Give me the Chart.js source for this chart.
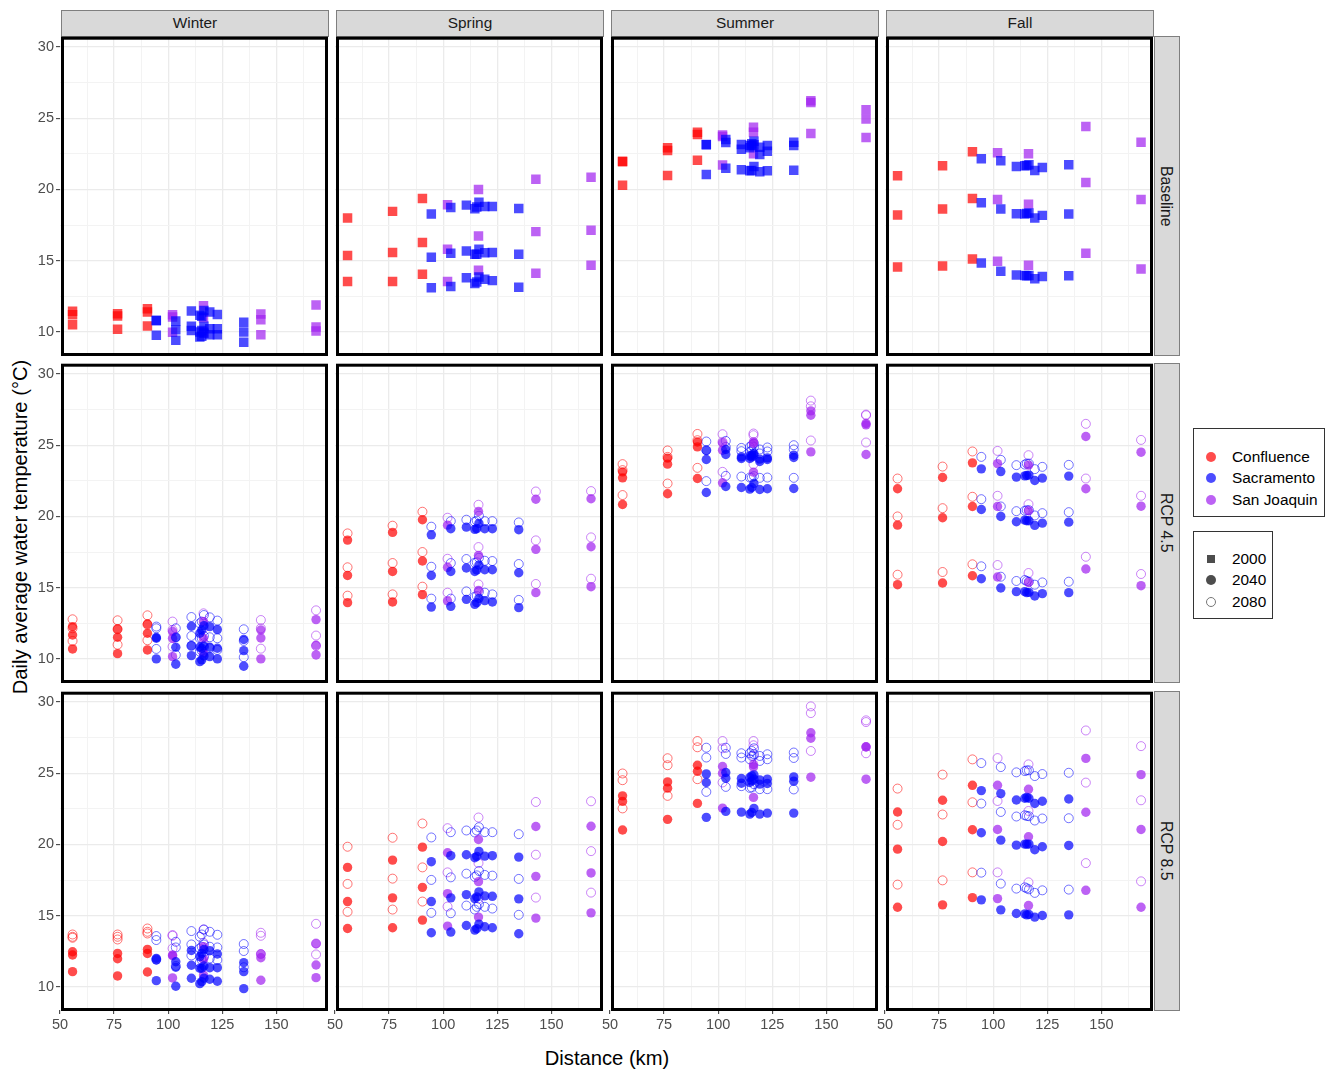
<!DOCTYPE html>
<html lang="en">
<head>
<meta charset="UTF-8">
<title>Daily average water temperature</title>
<script src="https://cdn.jsdelivr.net/npm/chart.js"></script>
<style>
    body { margin: 0; background: white; font-family: "Liberation Sans", Arial, sans-serif; color: #1a1a1a; }
    canvas { position: absolute; }
    .strip { position: absolute; background: #d9d9d9; border: 1px solid #7f7f7f; box-sizing: border-box;
             display: flex; align-items: center; justify-content: center; font-size: 15.4px; padding-bottom: 1px; }
    .strip.side { writing-mode: vertical-rl; font-size: 15.8px; padding: 0 2px 0 0; }
    .title { position: absolute; font-size: 20.2px; color: black; white-space: nowrap; }
    .legendBox { position: absolute; border: 1px solid #333; box-sizing: border-box; background: white; }
    .legendText { position: absolute; font-size: 15.4px; color: black; white-space: nowrap; transform: translateY(-50%); }
    .key { position: absolute; transform: translate(-50%, -50%); box-sizing: border-box; }
</style>
</head>
<body>

<div class="title" style="left:607px;top:1058px;transform:translate(-50%,-50%);">Distance (km)</div>
<div class="title" style="left:20px;top:527px;transform:translate(-50%,-50%) rotate(-90deg);">Daily average water temperature (°C)</div>

<div class="legendBox" style="left:1193px;top:428px;width:132px;height:89px;"></div>
<div class="legendBox" style="left:1193px;top:531px;width:80px;height:88px;"></div>

<script>
    const seasons = ['Winter', 'Spring', 'Summer', 'Fall'];
    const scenarios = ['Baseline', 'RCP 4.5', 'RCP 8.5'];
    const regions = ['Confluence', 'Sacramento', 'San Joaquin'];
    const years = ['2000', '2040', '2080'];

    const confluenceKm = [55.8, 76.6, 90.4];
    const sacramentoKm = [94.5, 103.5, 110.7, 114.6, 115.5, 116.5, 119.2, 122.7, 134.9];
    const sanJoaquinKm = [102, 116.3, 142.8, 168.3];

    const xTicks = [50, 75, 100, 125, 150];
    const xMinor = [62.5, 87.5, 112.5, 137.5, 162.5];
    const yTicks = [10, 15, 20, 25, 30];
    const yMinor = [12.5, 17.5, 22.5, 27.5];

    // each row is one site: confluence sites, then sacramento, then san joaquin
    const winterBase = [
        [11.45,11.2,10.5],[11.28,11.12,10.19],[11.63,11.4,10.42],
        [10.82,10.78,9.77],[10.77,10.16,9.42],[11.47,10.4,10.1],[11.17,10,9.65],[11.1,10.1,9.7],[11.5,10.4,9.9],[11.4,10.23,9.8],[11.23,10.23,9.8],[10.68,10,9.28],
        [11.2,11.05,9.98],[11.84,11,10],[11.26,10.86,9.8],[11.89,10.35,10.07]];
    const springBase = [
        [18,15.36,13.54],[18.46,15.57,13.54],[19.37,16.27,14.05],
        [18.27,15.24,13.1],[18.74,15.52,13.19],[18.9,15.68,13.8],[18.65,15.45,13.4],[18.76,15.45,13.5],[19.1,15.8,13.85],[18.8,15.55,13.7],[18.8,15.57,13.6],[18.67,15.45,13.14],
        [18.93,15.8,13.54],[20,16.73,14.33],[20.72,17.04,14.12],[20.86,17.13,14.68]];
    const summerBase = [
        [21.98,21.95,20.3],[22.92,22.73,20.98],[24.01,23.85,22.05],
        [23.15,23.13,21.05],[23.5,23.29,21.49],[23.15,22.82,21.38],[23.08,22.92,21.31],[23.2,23.08,21.33],[23.38,23.13,21.61],[22.96,22.45,21.24],[23.08,22.68,21.31],[23.31,23.08,21.35],
        [23.82,23.72,21.72],[24.36,24.01,22.5],[26.23,26.1,23.92],[25.6,24.95,23.64]];
    const fallBase = [
        [20.96,18.2,14.56],[21.66,18.62,14.63],[22.64,19.37,15.12],
        [22.15,19.07,14.84],[22.01,18.62,14.26],[21.61,18.3,14],[21.66,18.27,13.96],[21.68,18.32,13.94],[21.73,18.34,13.96],[21.33,17.99,13.73],[21.54,18.18,13.89],[21.73,18.27,13.94],
        [22.57,19.3,14.96],[22.5,18.97,14.68],[24.41,20.49,15.52],[23.31,19.3,14.42]];

    const winter45Mid = [
        [12.27,11.68,10.7],[12.1,11.52,10.37],[12.45,11.8,10.63],
        [11.5,11.45,10],[11.5,10.82,9.63],[12.29,10.93,10.23],[11.8,10.82,9.81],[12.03,10.75,9.93],[12.34,10.91,10.21],[12.27,10.82,10.16],[12.06,10.75,10],[11.36,10.58,9.49],
        [11.92,11.45,10.16],[12.62,11.45,10.4],[12.03,11.47,10],[12.76,10.96,10.28]];
    const winter45End = [
        [12.78,12.15,11.26],[12.71,12.08,11],[13.06,12.41,11.31],
        [12.27,12.15,10.7],[12.15,11.52,10.28],[12.94,11.61,10.91],[12.5,11.45,10.51],[12.62,11.45,10.58],[13.08,11.61,10.82],[12.92,11.52,10.75],[12.69,11.45,10.63],[12.08,11.26,10.12],
        [12.62,12.03,10.86],[13.2,12.15,11.1],[12.73,12.15,10.72],[13.41,11.64,10.91]];
    const spring45Mid = [
        [18.34,15.86,13.95],[18.88,16.14,14],[19.77,16.87,14.51],
        [18.71,15.86,13.64],[19.14,16.14,13.69],[19.25,16.38,14.18],[19.09,16.14,13.83],[19.14,16.24,13.95],[19.51,16.59,14.25],[19.14,16.26,14.09],[19.14,16.26,14],[19.07,16.05,13.6],
        [19.39,16.43,14.07],[20.35,17.27,14.81],[21.21,17.69,14.65],[21.24,17.87,15.07]];
    const spring45End = [
        [18.81,16.43,14.44],[19.35,16.73,14.53],[20.33,17.5,15.07],
        [19.28,16.47,14.23],[19.67,16.73,14.23],[19.77,17.01,14.74],[19.63,16.75,14.37],[19.7,16.78,14.42],[20.05,17.1,14.72],[19.67,16.89,14.65],[19.67,16.87,14.53],[19.58,16.66,14.14],
        [19.91,17.03,14.65],[20.82,17.85,15.23],[21.75,18.32,15.26],[21.78,18.53,15.63]];
    const summer45Mid = [
        [23.13,22.71,20.84],[24.09,23.67,21.59],[25.23,24.88,22.66],
        [24.63,24,21.68],[24.7,24.35,22.1],[24.18,24.07,22.03],[24.25,24.07,21.92],[24.3,24.18,22.03],[24.42,24.3,22.31],[24.02,23.86,21.89],[24.11,24,21.94],[24.3,24.14,21.96],
        [25.16,24.65,22.36],[25.23,25.12,23.11],[27.41,27.1,24.53],[26.52,26.43,24.35]];
    const summer45End = [
        [23.67,23.25,21.5],[24.63,24.18,22.31],[25.79,25.35,23.41],
        [25.26,24.65,22.48],[25.3,24.88,22.85],[24.81,24.58,22.8],[24.88,24.53,22.73],[25,24.65,22.73],[25.12,24.88,22.83],[24.7,24.42,22.71],[24.84,24.56,22.73],[25,24.7,22.71],
        [25.77,25.23,23.13],[25.82,25.7,23.67],[28.13,27.73,25.33],[27.15,27.1,25.19]];
    const fall45Mid = [
        [21.94,19.39,15.21],[22.73,19.91,15.33],[23.76,20.7,15.84],
        [23.34,20.49,15.63],[23.15,20,14.98],[22.76,19.63,14.72],[22.85,19.74,14.72],[22.87,19.7,14.65],[22.9,19.7,14.67],[22.52,19.37,14.42],[22.69,19.53,14.58],[22.83,19.6,14.65],
        [23.71,20.7,15.75],[23.6,20.4,15.37],[25.61,21.94,16.31],[24.51,20.72,15.14]];
    const fall45End = [
        [22.66,20,15.91],[23.5,20.58,16.1],[24.56,21.38,16.64],
        [24.18,21.21,16.5],[23.97,20.7,15.77],[23.6,20.37,15.47],[23.64,20.4,15.54],[23.71,20.44,15.47],[23.71,20.44,15.42],[23.32,20.07,15.21],[23.48,20.23,15.37],[23.62,20.3,15.42],
        [24.6,21.45,16.59],[24.3,20.86,16.03],[26.5,22.66,17.17],[25.37,21.45,15.96]];

    const winter85Mid = [
        [12.47,12.24,11.07],[12.35,11.98,10.77],[12.63,12.35,11.05],
        [12,11.89,10.44],[11.77,11.38,10.05],[12.56,11.52,10.61],[12.12,11.31,10.23],[12.35,11.31,10.37],[12.63,11.47,10.61],[12.54,11.35,10.54],[12.31,11.35,10.4],[11.7,11.07,9.88],
        [12.24,12.19,10.63],[12.82,11.93,10.84],[12.31,12.05,10.47],[13.03,11.54,10.65]];
    const winter85End = [
        [13.68,13.52,13.45],[13.68,13.52,13.33],[14.1,13.87,13.75],
        [13.57,13.29,11.93],[13.17,12.77,11.47],[13.92,12.98,12.21],[13.52,12.7,11.7],[13.68,12.82,11.89],[14.03,12.98,12.12],[13.87,12.82,12],[13.66,12.77,11.89],[13.01,12.52,11.38],
        [13.64,13.59,12.7],[14.03,13.1,12.12],[13.8,13.59,12.31],[14.43,13.05,12.28]];
    const spring85Mid = [
        [18.39,15.99,14.1],[18.9,16.25,14.15],[19.81,16.99,14.69],
        [18.79,15.99,13.8],[19.21,16.25,13.85],[19.28,16.48,14.31],[19.07,16.2,13.99],[19.16,16.32,14.08],[19.51,16.67,14.41],[19.18,16.39,14.22],[19.21,16.36,14.15],[19.11,16.18,13.73],
        [19.42,16.55,14.27],[20.35,17.39,14.9],[21.26,17.76,14.83],[21.28,18,15.2]];
    const spring85End = [
        [19.84,17.23,15.27],[20.47,17.6,15.43],[21.47,18.39,15.99],
        [20.49,17.51,15.2],[20.86,17.69,15.17],[20.98,17.95,15.71],[20.84,17.72,15.43],[20.98,17.83,15.62],[21.21,18.14,15.8],[20.86,17.86,15.62],[20.86,17.81,15.5],[20.72,17.58,15.06],
        [21.14,18.04,15.64],[21.89,18.69,16.2],[22.98,19.28,16.27],[23.03,19.53,16.62]];
    const summer85Mid = [
        [23.41,23.02,21.01],[24.39,23.95,21.76],[25.56,25.14,22.88],
        [24.95,24.35,21.9],[25.05,24.65,22.32],[24.63,24.3,22.27],[24.7,24.35,22.13],[24.81,24.46,22.25],[24.88,24.58,22.53],[24.53,24.23,22.13],[24.58,24.28,22.2],[24.74,24.44,22.2],
        [25.47,25,22.55],[25.61,25.44,23.3],[27.84,27.45,24.72],[26.86,26.84,24.58]];
    const summer85End = [
        [24.98,24.51,22.53],[26.05,25.56,23.41],[27.26,26.82,24.58],
        [26.79,26.1,23.69],[26.79,26.35,24.04],[26.4,26.1,24.09],[26.4,25.98,23.97],[26.56,26.21,24],[26.75,26.33,24.23],[26.21,25.86,23.88],[26.33,25.98,23.88],[26.45,26.07,23.86],
        [27.26,26.75,24.35],[27.26,26.96,26.21],[29.69,29.22,26.56],[28.71,28.59,26.4]];
    const fall85Mid = [
        [22.28,19.67,15.59],[23.1,20.21,15.76],[24.15,21.03,16.27],
        [23.78,20.82,16.11],[23.57,20.3,15.41],[23.12,19.95,15.15],[23.24,20.02,15.13],[23.29,20.02,15.06],[23.24,20.02,15.08],[22.87,19.63,14.9],[23.03,19.84,15.01],[23.19,19.93,15.06],
        [24.15,21.05,16.2],[23.87,20.54,15.71],[26.04,22.26,16.78],[24.9,21.05,15.59]];
    const fall85End = [
        [23.92,21.38,17.18],[24.9,22.1,17.48],[25.97,22.96,18.04],
        [25.71,22.87,18.02],[25.43,22.28,17.25],[25.06,21.96,16.9],[25.15,22.05,16.99],[25.2,22,16.92],[25.2,21.98,16.85],[24.8,21.68,16.6],[24.94,21.82,16.78],[25.03,21.84,16.83],
        [26.06,23.05,18.04],[25.62,22.35,17.34],[28,24.34,18.69],[26.9,23.1,17.41]];

    const regionColors = ['255,0,0', '0,0,255', '160,32,240'];

    // panel layout, one grid cell per season and scenario
    const colStep = 275;
    const rowTops = [38, 365, 693];
    const plotLeft = 60, plotWidth = 266, plotHeight = 317, padTop = 10, axisHeight = 30, padRight = 8;

    function strip(text, left, top, width, height, cls) {
        const d = document.createElement('div');
        d.className = 'strip ' + (cls || '');
        d.textContent = text;
        d.style.cssText = `left:${left}px;top:${top}px;width:${width}px;height:${height}px;`;
        document.body.appendChild(d);
    }

    seasons.forEach((s, c) => strip(s, 61 + c * colStep, 10, 268, 27));
    scenarios.forEach((s, r) => strip(s, 1154, rowTops[r] - 2, 26, 320, 'side'));

    // legend
    function legendRow(x, y, text) {
        const t = document.createElement('div');
        t.className = 'legendText';
        t.textContent = text;
        t.style.left = x + 'px';
        t.style.top = y + 'px';
        document.body.appendChild(t);
    }
    function legendKey(x, y, size, css) {
        const k = document.createElement('div');
        k.className = 'key';
        k.style.cssText = `left:${x}px;top:${y}px;width:${size}px;height:${size}px;${css}`;
        document.body.appendChild(k);
    }
    regions.forEach((name, i) => {
        const y = [457, 478, 500][i];
        legendKey(1211, y, 10, `border-radius:50%;background:rgba(${regionColors[i]},0.7);`);
        legendRow(1232, y, name);
    });
    years.forEach((name, i) => {
        const y = [559, 580, 602][i];
        const css = ['background:#4d4d4d;', 'border-radius:50%;background:#4d4d4d;', 'border-radius:50%;border:1px solid #777;'][i];
        legendKey(1211, y, i === 0 ? 8 : 10, css);
        legendRow(1232, y, name);
    });

    const borderPlugin = {
        id: 'panelBorder',
        afterDraw(chart) {
            const a = chart.chartArea, ctx = chart.ctx;
            ctx.save();
            ctx.strokeStyle = '#000';
            ctx.lineWidth = 3;
            ctx.strokeRect(a.left + 2.5, a.top - 0.5, a.right - a.left - 2, a.bottom - a.top);
            ctx.restore();
        }
    };

    function regionPoints(rows, i) {
        const km = [confluenceKm, sacramentoKm, sanJoaquinKm][i];
        const start = [0, confluenceKm.length, confluenceKm.length + sacramentoKm.length][i];
        return km.map((x, j) => rows[start + j].map(y => ({ x: x, y: y }))).flat();
    }

    // first dataset is painted last, so sacramento goes first to sit on top
    function markerSets(rows, kind) {
        return [1, 0, 2].map(i => {
            const col = regionColors[i];
            const set = { label: regions[i], data: regionPoints(rows, i), pointRadius: 4.7, pointBorderWidth: 0,
                          pointBackgroundColor: `rgba(${col},0.7)`, showLine: false };
            if (kind === 'square') {
                set.pointStyle = 'rect';
                set.pointRadius = 6.7;
            } else if (kind === 'open') {
                set.pointRadius = 4.5;
                set.pointBackgroundColor = 'rgba(0,0,0,0)';
                set.pointBorderColor = `rgba(${col},0.55)`;
                set.pointBorderWidth = 1;
            }
            return set;
        });
    }

    function makePanel(row, col, datasets) {
        const canvas = document.createElement('canvas');
        canvas.width = plotLeft + plotWidth + padRight;
        canvas.height = padTop + plotHeight + axisHeight;
        canvas.style.left = (col * colStep) + 'px';
        canvas.style.top = (rowTops[row] - padTop) + 'px';
        document.body.appendChild(canvas);

        const isMajorX = v => xTicks.includes(v);
        const isMajorY = v => yTicks.includes(v);
        const tickFont = { family: '"Liberation Sans", Arial, sans-serif', size: 14.5 };

        new Chart(canvas.getContext('2d'), {
            type: 'scatter',
            data: { datasets: datasets },
            plugins: [borderPlugin],
            options: {
                responsive: false,
                animation: false,
                devicePixelRatio: 1,
                layout: { padding: { top: padTop, right: padRight, left: 0, bottom: 0 } },
                plugins: { legend: { display: false }, tooltip: { enabled: false } },
                scales: {
                    x: {
                        type: 'linear',
                        min: 50,
                        max: 172.9,
                        afterBuildTicks: s => { s.ticks = xTicks.concat(xMinor).sort((a, b) => a - b).map(v => ({ value: v })); },
                        afterFit: s => { s.height = axisHeight; },
                        border: { display: false },
                        grid: {
                            color: ctx => ctx.tick.value === 50 ? 'rgba(0,0,0,0)' : (isMajorX(ctx.tick.value) ? '#ebebeb' : '#f3f3f3'),
                            lineWidth: ctx => isMajorX(ctx.tick.value) ? 1.3 : 1,
                            tickLength: 4,
                            tickColor: ctx => (row === 2 && isMajorX(ctx.tick.value)) ? '#333' : 'rgba(0,0,0,0)',
                            tickWidth: 1
                        },
                        ticks: {
                            autoSkip: false,
                            maxRotation: 0,
                            padding: 2,
                            color: '#4d4d4d',
                            font: tickFont,
                            callback: v => (row === 2 && isMajorX(v)) ? String(v) : ''
                        }
                    },
                    y: {
                        type: 'linear',
                        min: 8.38,
                        max: 30.58,
                        afterBuildTicks: s => { s.ticks = yTicks.concat(yMinor).sort((a, b) => a - b).map(v => ({ value: v })); },
                        afterFit: s => { s.width = plotLeft; },
                        border: { display: false },
                        grid: {
                            color: ctx => isMajorY(ctx.tick.value) ? '#ebebeb' : '#f3f3f3',
                            lineWidth: ctx => isMajorY(ctx.tick.value) ? 1.3 : 1,
                            tickLength: 4,
                            tickColor: ctx => (col === 0 && isMajorY(ctx.tick.value)) ? '#333' : 'rgba(0,0,0,0)',
                            tickWidth: 1
                        },
                        ticks: {
                            autoSkip: false,
                            padding: 2,
                            color: '#4d4d4d',
                            font: tickFont,
                            callback: v => (col === 0 && isMajorY(v)) ? String(v) : ''
                        }
                    }
                }
            }
        });
    }

    const baseRows = [winterBase, springBase, summerBase, fallBase];
    const mid45 = [winter45Mid, spring45Mid, summer45Mid, fall45Mid];
    const end45 = [winter45End, spring45End, summer45End, fall45End];
    const mid85 = [winter85Mid, spring85Mid, summer85Mid, fall85Mid];
    const end85 = [winter85End, spring85End, summer85End, fall85End];

    seasons.forEach((s, c) => {
        makePanel(0, c, markerSets(baseRows[c], 'square'));
        makePanel(1, c, markerSets(mid45[c], 'filled').concat(markerSets(end45[c], 'open')));
        makePanel(2, c, markerSets(mid85[c], 'filled').concat(markerSets(end85[c], 'open')));
    });
</script>

</body>
</html>
